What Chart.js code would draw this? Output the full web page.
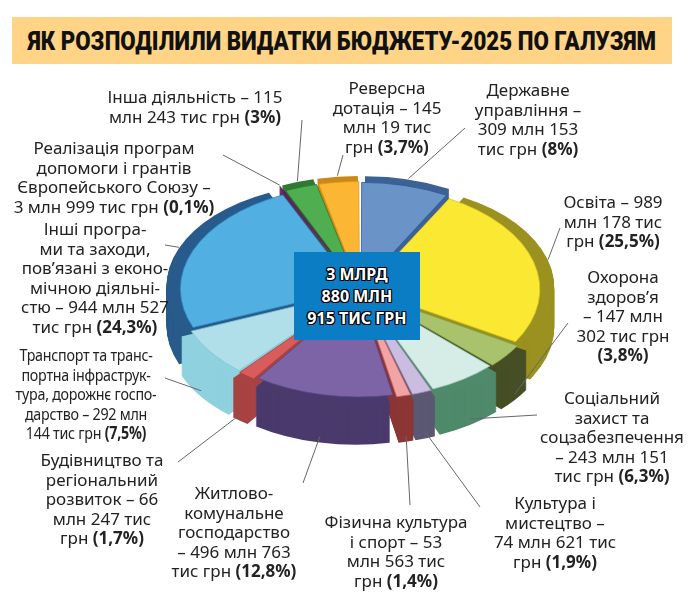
<!DOCTYPE html>
<html><head><meta charset="utf-8">
<script src="https://cdn.jsdelivr.net/npm/chart.js@4.4.1/dist/chart.umd.min.js"></script>
<style>
html,body{margin:0;padding:0;background:#fff;}
#wrap{position:relative;width:694px;height:600px;overflow:hidden;font-family:"Noto Sans",sans-serif;}
#c{position:absolute;left:0;top:0;}
#title{position:absolute;left:12px;top:17px;width:660px;height:47px;background:#ffd486;}
#title span{position:absolute;left:50%;top:50%;white-space:nowrap;font-family:Roboto,sans-serif;font-weight:900;font-size:25px;color:#111;transform-origin:center;}
.lbl{position:absolute;text-align:center;font-size:17px;line-height:19.5px;color:#222;white-space:nowrap;transform:translateX(-50%);}
.lbl b{font-weight:700;}
.narrow{transform:translateX(-50%) scaleX(0.84);letter-spacing:-0.3px;}
#center{position:absolute;left:294px;top:252px;width:126px;height:88px;background:#0a7dc4;color:#fff;text-align:center;font-weight:700;font-size:16px;line-height:22px;display:flex;flex-direction:column;justify-content:center;
text-shadow:-1px -1px 0 #000,1px -1px 0 #000,-1px 1px 0 #000,1px 1px 0 #000,0 1px 0 #000,0 -1px 0 #000,1px 0 0 #000,-1px 0 0 #000;}
</style></head>
<body>
<div id="wrap">
<canvas id="c" width="694" height="600"></canvas>
<div id="title"><span>ЯК РОЗПОДІЛИЛИ ВИДАТКИ БЮДЖЕТУ-2025 ПО ГАЛУЗЯМ</span></div>
<div id="center"></div>
</div>
<script>
// ---- data ----
const categories = ["Державне управління","Освіта","Охорона здоров’я","Соціальний захист та соцзабезпечення","Культура і мистецтво","Фізична культура і спорт","Житлово-комунальне господарство","Будівництво та регіональний розвиток","Транспорт та транспортна інфраструктура, дорожнє господарство","Інші програми та заходи, пов’язані з економічною діяльністю","Реалізація програм допомоги і грантів Європейського Союзу","Інша діяльність","Реверсна дотація"];
const shares = [8, 25.5, 3.8, 6.3, 1.9, 1.4, 12.8, 1.7, 7.5, 24.3, 0.1, 3, 3.7];
const amounts = ["309 млн 153 тис грн","989 млн 178 тис грн","147 млн 302 тис грн","243 млн 151 тис грн","74 млн 621 тис грн","53 млн 563 тис грн","496 млн 763 тис грн","66 млн 247 тис грн","292 млн 144 тис грн","944 млн 527 тис грн","3 млн 999 тис грн","115 млн 243 тис грн","145 млн 19 тис грн"];
const totalText = ["3 МЛРД","880 МЛН","915 ТИС ГРН"];
// label wrapping (text only); %P = percentage
const labelWrap = [
 ["Державне","управління –","309 млн 153","тис грн %P"],
 ["Освіта – 989","млн 178 тис","грн %P"],
 ["Охорона","здоров’я","– 147 млн","302 тис грн","%P"],
 ["Соціальний","захист та","соцзабезпечення","– 243 млн 151","тис грн %P"],
 ["Культура і","мистецтво –","74 млн 621 тис","грн %P"],
 ["Фізична культура","і спорт – 53","млн 563 тис","грн %P"],
 ["Житлово-","комунальне","господарство","– 496 млн 763","тис грн %P"],
 ["Будівництво та","регіональний","розвиток – 66","млн 247 тис","грн %P"],
 ["Транспорт та транс-","портна інфраструк-","тура, дорожнє госпо-","дарство – 292 млн","144 тис грн %P"],
 ["Інші програ-","ми та заходи,","пов’язані з еконо-","мічною діяльні-","стю – 944 млн 527","тис грн %P"],
 ["Реалізація програм","допомоги і грантів","Європейського Союзу –","3 млн 999 тис грн %P"],
 ["Інша діяльність – 115","млн 243 тис грн %P"],
 ["Реверсна","дотація – 145","млн 19 тис","грн %P"]
];
// ---- styles / layout ----
const topColors  = ["#6a93c8","#fbe832","#a9c26c","#d6ede7","#cbbde0","#f2a3a3","#7c64a6","#d95b5b","#b0dfe9","#52afe2","#8c3a8e","#4fae50","#fbb733"];
const sideColors = ["#3c6194","#9a9120","#454e24","#4f8a6b","#5b5872","#8c3636","#4a3a6c","#a84343","#8fd1de","#285b8b","#5c1f5d","#2f7a30","#c98919"];
const borderCols = ["#2f5a96","#d8c820","#7f9a40","#9cc8bc","#9a88b8","#c76b6b","#5a4488","#b03a3a","#7fc6d4","#2c86c0","#5c1f5d","#2f7a30","#e59a10"];
const labelPos = [[528,80],[613,192],[623,267],[612,388],[555,493],[396,512],[234,483],[102,450],[86,345],[95,219],[114,138],[195,87],[387,78]];
const leaderEnd = [[465,128],[560,228],[568,323],[537,415],[480,507],[410,505],[303,483],[178,462],[165,378],[165,245],[223,155],[302,120],[343,155]];
const K = 0.59, DEPTH = 40;

const pie3d = {
  id:'pie3d',
  beforeDatasetsDraw(chart){
    const ctx = chart.ctx, meta = chart.getDatasetMeta(0);
    const a = meta.data[0], cx = a.x, cy = a.y;
    ctx.save();
    ctx.translate(cx,cy); ctx.scale(1,K); ctx.translate(-cx,-cy);
    for (let d = DEPTH; d >= 1; d--) {
      meta.data.forEach((el,i)=>{
        const off = el.options.offset;
        const mid = (el.startAngle+el.endAngle)/2;
        const ox = el.x + Math.cos(mid)*off, oy = el.y + Math.sin(mid)*off + d/K;
        ctx.beginPath(); ctx.moveTo(ox,oy);
        ctx.arc(ox,oy,el.outerRadius,el.startAngle,el.endAngle);
        ctx.closePath();
        ctx.fillStyle = sideColors[i]; ctx.fill();
      });
    }
  },
  afterDatasetsDraw(chart){
    const ctx = chart.ctx, meta = chart.getDatasetMeta(0);
    ctx.restore();
    ctx.save();
    ctx.strokeStyle = "#666"; ctx.lineWidth = 1;
    meta.data.forEach((el,i)=>{
      const off = el.options.offset;
      const mid = (el.startAngle+el.endAngle)/2;
      const r = el.outerRadius + off;
      let px = el.x + Math.cos(mid)*r, py = el.y + Math.sin(mid)*r*K;
      if (Math.sin(mid) > 0.15) py += DEPTH*0.85;
      ctx.beginPath(); ctx.moveTo(px,py); ctx.lineTo(leaderEnd[i][0], leaderEnd[i][1]); ctx.stroke();
    });
    ctx.restore();
  }
};

new Chart(document.getElementById('c'), {
  type:'pie',
  data:{labels:categories, datasets:[{data:shares, backgroundColor:topColors, borderColor:borderCols, borderWidth:1, offset:20, radius:175, clip:false}]},
  options:{responsive:false, animation:false, events:[],
    layout:{padding:{left:60,right:34,top:40,bottom:60}},
    plugins:{legend:{display:false}, tooltip:{enabled:false}}},
  plugins:[pie3d]
});

// labels
const wrap = document.getElementById('wrap');
labelWrap.forEach((lines,i)=>{
  const d = document.createElement('div');
  d.className = 'lbl' + (i===8 ? ' narrow' : '');
  d.style.left = labelPos[i][0]+'px'; d.style.top = labelPos[i][1]+'px';
  const pct = '<b>(' + String(shares[i]).replace('.',',') + '%)</b>';
  d.innerHTML = lines.map(l=>l.replace('%P',pct)).join('<br>');
  wrap.appendChild(d);
});
const cEl = document.getElementById('center');
cEl.innerHTML = totalText.map(t=>'<div>'+t+'</div>').join('');
wrap.appendChild(cEl);
// fit title
const ts = document.querySelector('#title span');
const w = ts.getBoundingClientRect().width;
ts.style.transform = 'translate(-50%,-50%) scaleX(' + (628/w) + ')';
</script>
</body></html>
